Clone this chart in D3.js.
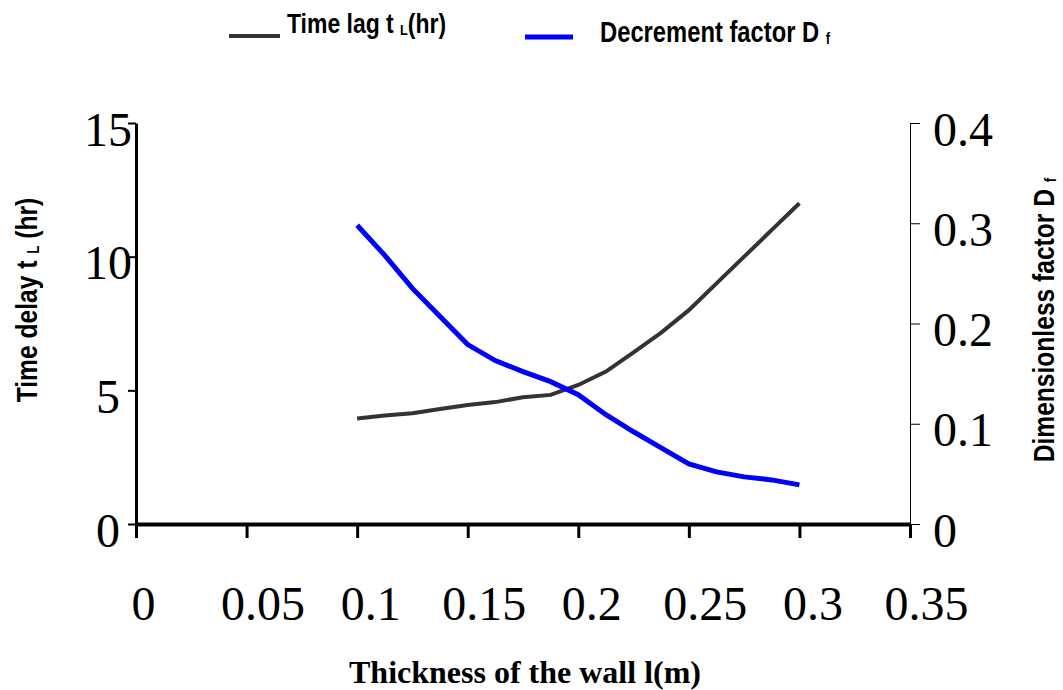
<!DOCTYPE html>
<html>
<head>
<meta charset="utf-8">
<script src="https://cdn.jsdelivr.net/npm/d3@7"></script>
<style>
  body { margin: 0; background: #fff; }
  svg { display: block; }
  .serif { font-family: "Times New Roman", "Liberation Serif", serif; }
  .narrow { font-family: Arial, "Liberation Sans", sans-serif; font-weight: bold; }
</style>
</head>
<body>
<div class="chart"></div>
<script>
// wall thickness (m), one reading every 1.25 cm
var thickness = [0.1, 0.1125, 0.125, 0.1375, 0.15, 0.1625, 0.175, 0.1875, 0.2,
                 0.2125, 0.225, 0.2375, 0.25, 0.2625, 0.275, 0.2875, 0.3];
// time lag t_L (hr), left axis
var timeLag = [3.95, 4.06, 4.14, 4.3, 4.45, 4.56, 4.74, 4.83, 5.2,
               5.7, 6.42, 7.16, 8.0, 9.0, 10.0, 11.0, 12.0];
// decrement factor D_f, right axis
var decrement = [0.298, 0.268, 0.235, 0.207, 0.179, 0.163, 0.152, 0.142, 0.129,
                 0.109, 0.092, 0.076, 0.06, 0.052, 0.047, 0.044, 0.039];

var xTicks = [0, 0.05, 0.1, 0.15, 0.2, 0.25, 0.3, 0.35];
var xTickLabels = ["0", "0.05", "0.1", "0.15", "0.2", "0.25", "0.3", "0.35"];
var leftTicks = [0, 5, 10, 15];
var rightTicks = [0, 0.1, 0.2, 0.3, 0.4];
var rightTickLabels = ["0", "0.1", "0.2", "0.3", "0.4"];

var svgWidth = 1063, svgHeight = 690;
var margin = { top: 123, right: 153, bottom: 166, left: 136 };
var chart_width = svgWidth - margin.left - margin.right,
    chart_height = svgHeight - margin.top - margin.bottom;

var svg = d3.select(".chart")
  .append("svg")
  .attr("width", svgWidth)
  .attr("height", svgHeight);

var g = svg.append("g")
  .attr("transform", "translate(" + margin.left + "," + margin.top + ")");

var x = d3.scaleLinear().domain([0, 0.35]).range([0, chart_width]);
var yLeft = d3.scaleLinear().domain([0, 15]).range([chart_height, 0]);
var yRight = d3.scaleLinear().domain([0, 0.4]).range([chart_height, 0]);

// left axis
var leftAxis = g.append("g")
  .call(d3.axisLeft(yLeft).tickValues(leftTicks).tickSize(8).tickSizeOuter(0));
leftAxis.select(".domain").attr("stroke-width", 3);
leftAxis.selectAll(".tick line").attr("stroke-width", 2);
leftAxis.selectAll(".tick text")
  .attr("class", "serif")
  .attr("font-size", 48)
  .attr("text-anchor", "middle")
  .attr("x", -28)
  .attr("y", 22)
  .attr("dy", null)
  .attr("fill", "#000");

// right axis
var rightAxis = g.append("g")
  .attr("transform", "translate(" + chart_width + ",0)")
  .call(d3.axisRight(yRight).tickValues(rightTicks).tickSize(10).tickSizeOuter(0)
    .tickFormat(function (d, i) { return rightTickLabels[i]; }));
rightAxis.select(".domain").attr("stroke-width", 1);
rightAxis.selectAll(".tick text")
  .attr("class", "serif")
  .attr("font-size", 48)
  .attr("x", 23)
  .attr("y", 22)
  .attr("dy", null)
  .attr("fill", "#000");

// bottom axis
var bottomAxis = g.append("g")
  .attr("transform", "translate(0," + chart_height + ")")
  .call(d3.axisBottom(x).tickValues(xTicks).tickSize(14).tickSizeOuter(0)
    .tickFormat(function (d, i) { return xTickLabels[i]; }));
bottomAxis.select(".domain").attr("stroke-width", 4);
bottomAxis.selectAll(".tick line").attr("stroke-width", 3);
bottomAxis.selectAll(".tick text")
  .attr("class", "serif")
  .attr("font-size", 48)
  .attr("y", 96)
  .attr("dy", null)
  .attr("dx", function (d, i) { return 4 + xTickLabels[i].length * 3; })
  .attr("fill", "#000");

// lines
var lagLine = d3.line()
  .x(function (d, i) { return x(thickness[i]); })
  .y(function (d) { return yLeft(d); });
var decLine = d3.line()
  .x(function (d, i) { return x(thickness[i]); })
  .y(function (d) { return yRight(d); });

g.append("path")
  .datum(timeLag)
  .attr("d", lagLine)
  .attr("fill", "none")
  .attr("stroke", "#333")
  .attr("stroke-width", 4);

g.append("path")
  .datum(decrement)
  .attr("d", decLine)
  .attr("fill", "none")
  .attr("stroke", "#0000ff")
  .attr("stroke-width", 5);

// axis titles
svg.append("text")
  .attr("class", "serif")
  .attr("x", 525)
  .attr("y", 683)
  .attr("text-anchor", "middle")
  .attr("font-size", 32)
  .attr("font-weight", "bold")
  .text("Thickness of the wall l(m)");

function narrowText(tx, ty, rot, anchor, size, main, sub, tail) {
  var t = svg.append("text")
    .attr("class", "narrow")
    .attr("font-size", size)
    .attr("text-anchor", anchor)
    .attr("transform", "translate(" + tx + "," + ty + ") rotate(" + rot + ") scale(0.82,1)");
  t.append("tspan").text(main);
  t.append("tspan").attr("font-size", size * 0.55).attr("dy", 2).text(sub);
  if (tail) t.append("tspan").attr("dy", -2).text(tail);
  return t;
}

narrowText(37, 300, -90, "middle", 30, "Time delay t ", "L", "  (hr)");
narrowText(1054, 320, -90, "middle", 30, "Dimensionless factor D ", "f", null);

// legend
svg.append("line")
  .attr("x1", 229).attr("x2", 280).attr("y1", 36).attr("y2", 36)
  .attr("stroke", "#333").attr("stroke-width", 4);
narrowText(287, 33, 0, "start", 28, "Time lag t ", "L", "(hr)");

svg.append("line")
  .attr("x1", 525).attr("x2", 573).attr("y1", 37).attr("y2", 37)
  .attr("stroke", "#0000ff").attr("stroke-width", 5);
narrowText(600, 42, 0, "start", 29, "Decrement factor D ", "f", null);
</script>
</body>
</html>
